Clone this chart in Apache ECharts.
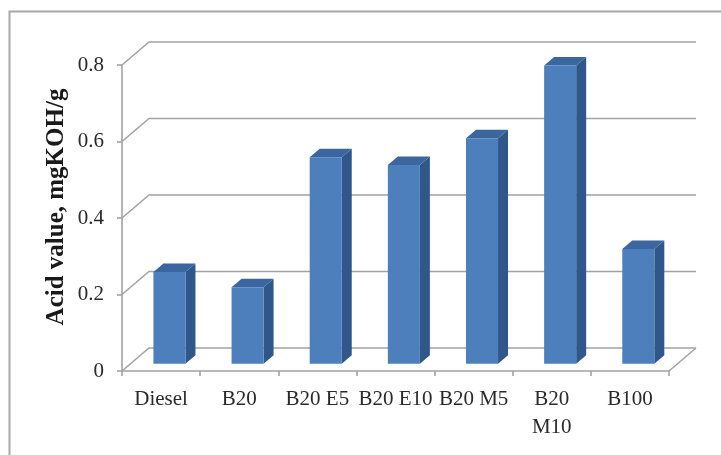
<!DOCTYPE html>
<html>
<head>
<meta charset="utf-8">
<script src="https://cdn.jsdelivr.net/npm/echarts@6/dist/echarts.min.js"></script>
<style>
  html, body { margin: 0; padding: 0; background: #ffffff; }
  #chart { width: 721px; height: 455px; }
</style>
</head>
<body>
<div id="chart"></div>
<script>
// Fuel blends and their acid values (mgKOH/g)
const categories = ['Diesel', 'B20', 'B20 E5', 'B20 E10', 'B20 M5', 'B20\nM10', 'B100'];
const acidValues = [0.24, 0.20, 0.54, 0.52, 0.59, 0.78, 0.30];
const yTicks = [0, 0.2, 0.4, 0.6, 0.8];

// Pseudo-3D look: pixel offset of the back wall relative to the front plane
const DEPTH_X = 27;
const DEPTH_Y = 23;
// Bar depth placement as a fraction of the floor depth
const BAR_FRONT = 0.31;
const BAR_BACK = 0.68;
const BAR_WIDTH_RATIO = 0.41;

const gridColor = '#a3a3a3';
const faceColor = '#4c7fbc';
const sideColor = '#30578a';
const topColor = '#3b66a0';
const serif = '"Liberation Serif", "Times New Roman", serif';

const chart = echarts.init(document.getElementById('chart'), null, { renderer: 'canvas' });

// Back wall gridlines with the left-side diagonals, plus the floor edge
function renderWalls(params, api) {
  const cs = params.coordSys;
  const y = api.coord([0, api.value(1)])[1];
  const xL = cs.x;
  const xR = cs.x + cs.width;
  const style = { stroke: gridColor, lineWidth: 1.6, fill: null };
  const children = [{
    type: 'polyline',
    shape: { points: [[xL, y], [xL + DEPTH_X, y - DEPTH_Y], [xR + DEPTH_X, y - DEPTH_Y]] },
    style: style,
    silent: true
  }];
  if (api.value(1) === 0) {
    children.push({
      type: 'line',
      shape: { x1: xR, y1: y, x2: xR + DEPTH_X, y2: y - DEPTH_Y },
      style: style,
      silent: true
    });
  }
  return { type: 'group', children: children };
}

// Box-shaped bar: front face, right side and top
function renderBar(params, api) {
  const idx = api.value(0);
  const val = api.value(1);
  const base = api.coord([idx, 0]);
  const top = api.coord([idx, val]);
  const band = api.size([1, 0])[0];
  const w = band * BAR_WIDTH_RATIO;
  const x0 = base[0] - w / 2 + DEPTH_X * BAR_FRONT;
  const x1 = x0 + w;
  const yb = base[1] - DEPTH_Y * BAR_FRONT;
  const yt = top[1] - DEPTH_Y * BAR_FRONT;
  const sdx = DEPTH_X * (BAR_BACK - BAR_FRONT);
  const sdy = DEPTH_Y * (BAR_BACK - BAR_FRONT);
  return {
    type: 'group',
    children: [
      {
        type: 'polygon',
        shape: { points: [[x1, yt], [x1 + sdx, yt - sdy], [x1 + sdx, yb - sdy], [x1, yb]] },
        style: { fill: sideColor }
      },
      {
        type: 'polygon',
        shape: { points: [[x0, yt], [x0 + sdx, yt - sdy], [x1 + sdx, yt - sdy], [x1, yt]] },
        style: { fill: topColor }
      },
      {
        type: 'rect',
        shape: { x: x0, y: yt, width: w, height: yb - yt },
        style: { fill: faceColor }
      }
    ]
  };
}

const option = {
  backgroundColor: '#ffffff',
  animation: false,
  textStyle: { fontFamily: serif },
  graphic: [{
    type: 'rect',
    shape: { x: 9.5, y: 11.5, width: 900, height: 600 },
    style: { fill: null, stroke: '#a8a8a8', lineWidth: 2 },
    silent: true,
    z: -10
  }],
  grid: { left: 122, right: 52, top: 65, bottom: 84 },
  xAxis: {
    type: 'category',
    data: categories,
    axisLine: { show: true, lineStyle: { color: gridColor, width: 1.6 } },
    axisTick: { show: true, interval: 0, length: 5, lineStyle: { color: gridColor, width: 1.6 } },
    axisLabel: {
      interval: 0,
      margin: 14,
      fontSize: 21,
      lineHeight: 28,
      color: '#2a2a2a',
      fontFamily: serif
    },
    splitLine: { show: false }
  },
  yAxis: {
    type: 'value',
    min: 0,
    max: 0.8,
    interval: 0.2,
    name: 'Acid value, mgKOH/g',
    nameLocation: 'middle',
    nameGap: 53,
    nameMoveOverlap: false,
    nameTextStyle: {
      fontSize: 25,
      fontWeight: 'bold',
      color: '#1a1a1a',
      fontFamily: serif,
      padding: [0, 0, 0, 22]
    },
    axisLine: { show: true, lineStyle: { color: gridColor, width: 1.6 } },
    axisTick: { show: true, length: 5, lineStyle: { color: gridColor, width: 1.6 } },
    axisLabel: {
      margin: 18,
      fontSize: 21,
      color: '#2a2a2a',
      fontFamily: serif,
      formatter: function (v) { return v === 0 ? '0' : String(v); }
    },
    splitLine: { show: false }
  },
  series: [
    {
      type: 'custom',
      name: 'walls',
      renderItem: renderWalls,
      data: yTicks.map(function (v) { return [0, v]; }),
      z: 1,
      silent: true,
      clip: false
    },
    {
      type: 'custom',
      name: 'Acid value',
      renderItem: renderBar,
      data: acidValues.map(function (v, i) { return [i, v]; }),
      encode: { x: 0, y: 1 },
      z: 5,
      clip: false
    }
  ]
};

chart.setOption(option);
</script>
</body>
</html>
